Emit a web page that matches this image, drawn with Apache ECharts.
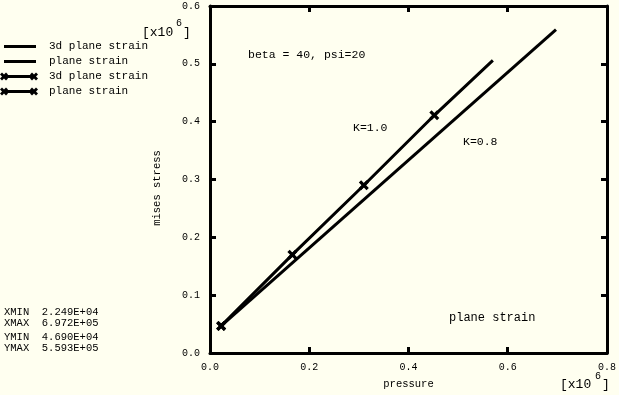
<!DOCTYPE html>
<html>
<head>
<meta charset="utf-8">
<script src="https://cdn.jsdelivr.net/npm/echarts@6/dist/echarts.min.js"></script>
<style>
html,body{margin:0;padding:0;background:#fffff0;}
#c{width:619px;height:395px;}
</style>
</head>
<body>
<div id="c"></div>
<script>
// ---- data ----
var xTicks = [0, 0.2, 0.4, 0.6, 0.8];
var yTicks = [0, 0.1, 0.2, 0.3, 0.4, 0.5, 0.6];
// K=1.0 curve
var k10X = [0.0225, 0.166, 0.310, 0.452, 0.570];
var k10Y = [0.0469, 0.170, 0.290, 0.411, 0.506];
// K=0.8 curve
var k08X = [0.0225, 0.6972];
var k08Y = [0.0469, 0.5593];
// marker points
var mk3dX = [0.0225, 0.166, 0.310, 0.452];
var mk3dY = [0.0469, 0.170, 0.290, 0.411];
var mkPsX = [0.0225];
var mkPsY = [0.0469];
var seriesNames = ['3d plane strain', 'plane strain', '3d plane strain ', 'plane strain '];
var infoLines = ['XMIN  2.249E+04', 'XMAX  6.972E+05', 'YMIN  4.690E+04', 'YMAX  5.593E+05'];

function pairs(xs, ys){ return xs.map(function(x,i){ return [x, ys[i]]; }); }

function xPoly(cx, cy, h, t){
  var p = [[cx-h,cy-h+t],[cx-h+t,cy-h],[cx,cy-t],[cx+h-t,cy-h],[cx+h,cy-h+t],[cx+t,cy],
           [cx+h,cy+h-t],[cx+h-t,cy+h],[cx,cy+t],[cx-h+t,cy+h],[cx-h,cy+h-t],[cx-t,cy]];
  return 'M' + p.map(function(q){return q[0]+','+q[1];}).join('L') + 'Z';
}
var markerPath = 'path://' + xPoly(5,5,5,2.3);
var lineIcon = 'path://M0,0M44,10M4,3.5L36,3.5L36,6.5L4,6.5Z';
var markIcon = 'path://M0,0M44,10' + xPoly(4,5,4,2) + 'M4,3.5L34,3.5L34,6.5L4,6.5Z' + xPoly(34,5,4,2);

var FONT = "'Liberation Mono','DejaVu Sans Mono',monospace";
var axisCommon = {
  type: 'value', min: 0,
  axisLine: {show: true, onZero: false, lineStyle: {color: '#000', width: 3}},
  axisTick: {show: true, inside: true, length: 6, lineStyle: {color: '#000', width: 3}},
  splitLine: {show: false}
};
function mk(o){ return Object.assign({}, JSON.parse(JSON.stringify(axisCommon)), o); }

var chart = echarts.init(document.getElementById('c'), null, {renderer: 'canvas'});
var txt = function(x, y, s, size, extra){
  return Object.assign({type: 'text', x: x, y: y, style: {text: s, fill: '#000', font: size + 'px ' + FONT, textVerticalAlign: 'middle'}}, extra || {});
};
chart.setOption({
  backgroundColor: '#fffff0',
  animation: false,
  grid: {left: 210, right: 9, top: 6, bottom: 42},
  xAxis: [
    mk({position: 'bottom', max: 0.8, interval: 0.2,
      axisLabel: {color: '#000', fontFamily: FONT, fontSize: 10, margin: 9, formatter: function(v){return v.toFixed(1);}},
      name: 'pressure', nameLocation: 'middle', nameGap: 26,
      nameTextStyle: {color: '#000', fontFamily: FONT, fontSize: 10.5}}),
    mk({position: 'top', max: 0.8, interval: 0.2, axisLabel: {show: false}})
  ],
  yAxis: [
    mk({position: 'left', max: 0.6, interval: 0.1,
      axisLabel: {color: '#000', fontFamily: FONT, fontSize: 10, margin: 10, formatter: function(v){return v.toFixed(1);}}}),
    mk({position: 'right', max: 0.6, interval: 0.1, axisLabel: {show: false}})
  ],
  legend: {
    orient: 'vertical', left: 0, top: 41, padding: 0, itemWidth: 44, itemHeight: 10, itemGap: 4,
    textStyle: {color: '#000', fontFamily: FONT, fontSize: 11, lineHeight: 11},
    itemStyle: {color: '#000', borderWidth: 0},
    data: [
      {name: seriesNames[0], icon: lineIcon},
      {name: seriesNames[1], icon: lineIcon},
      {name: seriesNames[2], icon: markIcon},
      {name: seriesNames[3], icon: markIcon}
    ]
  },
  series: [
    {name: seriesNames[0], type: 'line', data: pairs(k10X, k10Y), showSymbol: false, symbol: 'none',
     lineStyle: {color: '#000', width: 3}, itemStyle: {color: '#000'}},
    {name: seriesNames[1], type: 'line', data: pairs(k08X, k08Y), showSymbol: false, symbol: 'none',
     lineStyle: {color: '#000', width: 3}, itemStyle: {color: '#000'}},
    {name: seriesNames[2], type: 'scatter', data: pairs(mk3dX, mk3dY), symbol: markerPath, symbolSize: 10,
     itemStyle: {color: '#000', opacity: 1}},
    {name: seriesNames[3], type: 'scatter', data: pairs(mkPsX, mkPsY), symbol: markerPath, symbolSize: 10,
     itemStyle: {color: '#000', opacity: 1}}
  ],
  graphic: [
    txt(157, 188, 'mises stress', 10.5, {rotation: Math.PI/2, style: {text: 'mises stress', fill: '#000', font: '10.5px ' + FONT, textAlign: 'center', textVerticalAlign: 'middle'}}),
    txt(248, 55, 'beta = 40, psi=20', 11.5),
    txt(353, 128, 'K=1.0', 11.5),
    txt(463, 142, 'K=0.8', 11.5),
    txt(449, 318, 'plane strain', 12),
    txt(4, 312, infoLines[0], 10.5),
    txt(4, 323, infoLines[1], 10.5),
    txt(4, 337, infoLines[2], 10.5),
    txt(4, 348, infoLines[3], 10.5),
    txt(142, 33, '[x10', 13),
    txt(176, 23, '6', 10),
    txt(183, 33, ']', 13),
    txt(560, 385, '[x10', 13),
    txt(595, 376, '6', 10),
    txt(602, 385, ']', 13)
  ]
});
</script>
</body>
</html>
